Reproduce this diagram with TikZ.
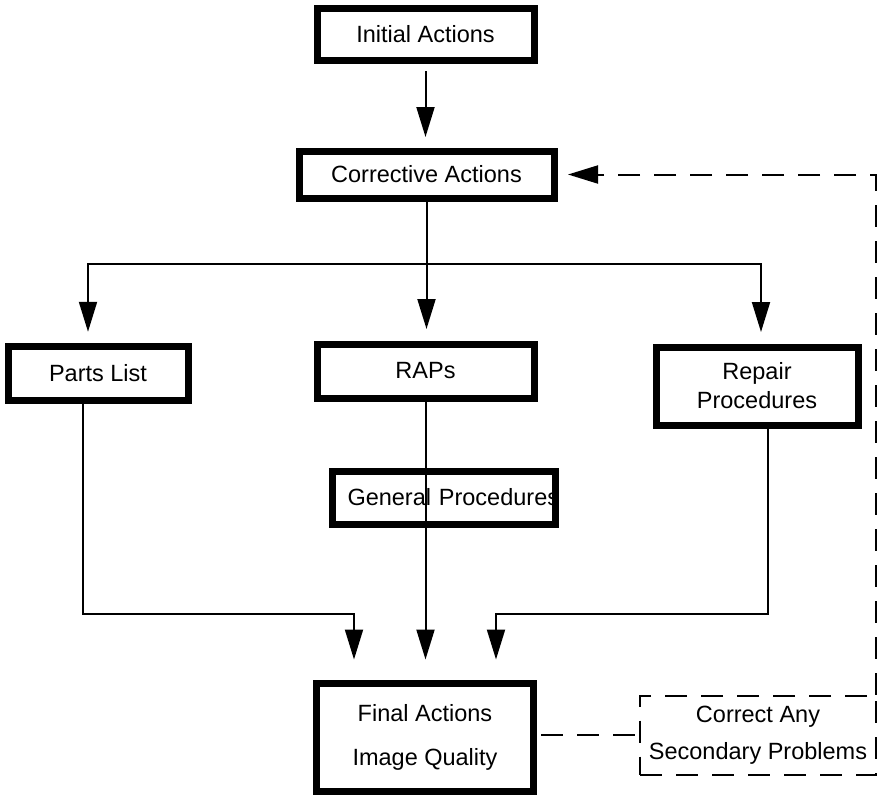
\documentclass[tikz,border=0pt]{standalone}
\usepackage{fontspec}
\setmainfont{Liberation Sans}
\usetikzlibrary{arrows.meta}

\begin{document}
\begin{tikzpicture}[x=0.5pt,y=-0.5pt,
  every node/.style={font=\fontsize{11.75}{14.5}\selectfont},
  stepbox/.style={draw,line width=3.5pt,inner sep=0pt,align=center},
  altbox/.style={draw,line width=1pt,dash pattern=on 11pt off 7pt,inner sep=0pt,align=center},
  link/.style={line width=1pt},
  flow/.style={link,-{Triangle[length=15pt,width=9pt]}},
  backline/.style={line width=1pt,dash pattern=on 11pt off 7pt}]
\useasboundingbox (0,0) rectangle (879,798);
\node[stepbox,minimum width=108.5pt,minimum height=26pt] (Initial) at (425.5,34) {Initial Actions};
\node[stepbox,minimum width=127.5pt,minimum height=23.5pt] (Corrective) at (426.5,174.5) {Corrective Actions};
\node[stepbox,minimum width=90pt,minimum height=26.75pt] (Parts) at (98,373.5) {Parts List};
\node[stepbox,minimum width=108.5pt,minimum height=27pt] (RAPs) at (425.5,371) {RAPs};
\node[stepbox,minimum width=101pt,minimum height=39pt] (Repair) at (757,386) {Repair\\Procedures};
\node[stepbox,inner xsep=7.75pt,text width=96pt,align=left,minimum height=26.5pt] (General) at (443.5,497.5) {\mbox{General Procedures}};
\node[stepbox,minimum width=108.5pt,minimum height=54pt] (Final) at (425,737.5) {Final Actions\\[7.5pt]Image Quality};
\node[altbox,minimum width=118pt,minimum height=39.5pt] (Correct) at (758,735) {Correct Any\\[4pt]Secondary Problems};
\coordinate (split) at (426.5,264);
\coordinate (mergeL) at (354,614);
\coordinate (mergeR) at (496,614);
% down the middle
\draw[flow,shorten <=3.75pt,shorten >=5.25pt] (Initial.south) -- (Initial.south |- Corrective.north);
\draw[link] (Corrective.south) -- (split);
\draw[flow,shorten >=5.75pt] (split) -| ([xshift=-5pt]Parts.north);
\draw[flow,shorten >=5.75pt] (split) -- (split |- RAPs.north);
\draw[flow,shorten >=5.75pt] (split) -| ([xshift=2pt]Repair.north);
% into final actions
\draw[flow,shorten >=10.25pt] ([xshift=-7.5pt]Parts.south) |- (mergeL) -- (mergeL |- Final.north);
\draw[flow,shorten >=10.25pt] (RAPs.south) -- (RAPs.south |- Final.north);
\draw[flow,shorten >=10.25pt] ([xshift=5.5pt]Repair.south) |- (mergeR) -- (mergeR |- Final.north);
% secondary problems loop
\draw[backline,shorten <=2pt] (Final.east |- Correct.west) -- (Correct.west);
\draw[backline,-{Triangle[length=15pt,width=9pt]},shorten >=5.25pt] ([xshift=-0.5pt]Correct.north east) |- (Corrective.east);
\end{tikzpicture}
\end{document}
